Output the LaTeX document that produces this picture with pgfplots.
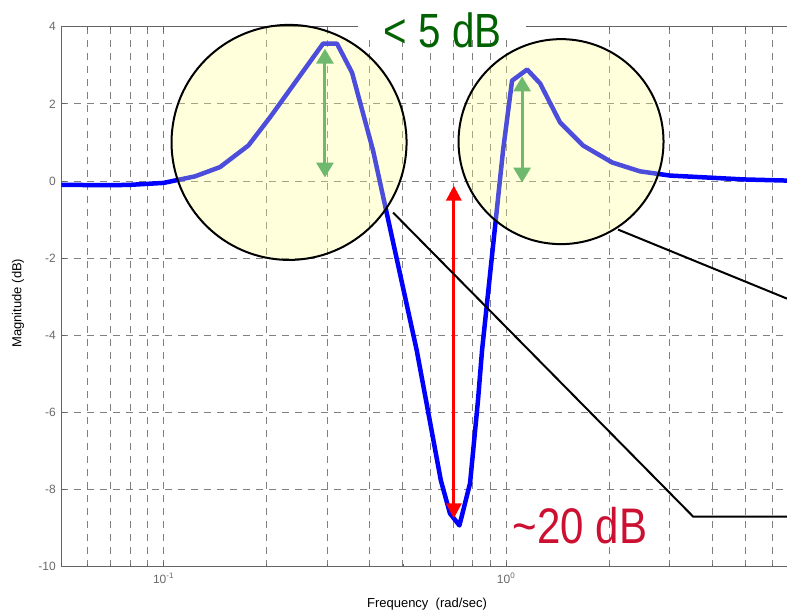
\documentclass[border=0pt]{standalone}
\usepackage{fontspec}
\setmainfont{Liberation Sans}
\newfontfamily\annofont[FakeStretch=0.84]{Liberation Sans}
\usepackage{graphicx}
\usepackage{pgfplots}
\pgfplotsset{compat=1.18}
\usetikzlibrary{arrows.meta}

\definecolor{curveblue}{RGB}{0,0,255}
\definecolor{gridgray}{RGB}{128,128,128}
\definecolor{axisgray}{RGB}{100,100,100}
\definecolor{labelgray}{RGB}{105,105,105}
\definecolor{arrowgreen}{RGB}{110,185,110}
\definecolor{textgreen}{RGB}{0,98,0}
\definecolor{textred}{RGB}{204,16,50}
\definecolor{circlefill}{RGB}{255,255,139}

\begin{document}
\begin{tikzpicture}
\begin{axis}[
  scale only axis,
  width=725.7pt, height=540pt,
  xmode=log,
  xmin=0.0503, xmax=6.61,
  ymin=-10, ymax=4,
  xtick={0.1,1},
  xticklabels={10\textsuperscript{-1},10\textsuperscript{0}},
  minor xtick={0.06,0.07,0.08,0.09,0.2,0.3,0.4,0.5,0.6,0.7,0.8,0.9,2,3,4,5,6},
  ytick={-10,-8,-6,-4,-2,0,2,4},
  yticklabels={-10,-8,-6,-4,-2,0,2,4},
  grid=both,
  major grid style={gridgray, line width=0.9pt, dash pattern=on 7pt off 6pt},
  minor grid style={gridgray, line width=0.9pt, dash pattern=on 7pt off 6pt},
  axis x line*=box, axis y line*=left,
  axis line style={-, draw=axisgray, line width=1pt},
  tick align=inside,
  major tick length=5pt, minor tick length=3pt,
  tick style={axisgray, line width=0.8pt},
  ticklabel style={font=\fontsize{12}{14}\selectfont, text=labelgray},
  xticklabel style={yshift=-3pt},
  yticklabel style={xshift=-2pt},
  xlabel={Frequency~~(rad/sec)},
  ylabel={Magnitude (dB)},
  label style={font=\fontsize{13}{15}\selectfont, text=black},
  xlabel style={at={(axis description cs:0.504,-0.069)}, anchor=center},
  ylabel style={at={(axis description cs:-0.0597,0.488)}, anchor=center},
]
% closed-loop magnitude response
\addplot[curveblue, line width=4.5pt, line join=round] table {
0.0503 -0.10
0.07   -0.11
0.08   -0.10
0.10   -0.05
0.1236  0.12
0.1462  0.36
0.1769  0.92
0.2046  1.65
0.2922  3.56
0.3210  3.56
0.3551  2.81
0.409   0.79
0.5485 -4.39
0.584  -5.69
0.645  -7.76
0.686  -8.62
0.731  -8.93
0.785  -7.84
0.828  -5.69
0.851  -4.39
0.980   0.79
1.041   2.60
1.152   2.89
1.257   2.53
1.437   1.52
1.678   0.92
2.04    0.48
2.46    0.25
3.01    0.14
3.86    0.09
4.93    0.04
6.61    0.01
};
% anchor points for the annotations
\coordinate (lc) at (axis cs:0.2325,1.0);
\coordinate (rc) at (axis cs:1.447,1.02);
\coordinate (g1a) at (axis cs:0.296,0.09);
\coordinate (g1b) at (axis cs:0.296,3.43);
\coordinate (g2a) at (axis cs:1.114,-0.04);
\coordinate (g2b) at (axis cs:1.114,2.71);
\coordinate (ra) at (axis cs:0.704,-0.12);
\coordinate (rb) at (axis cs:0.704,-8.75);
\coordinate (b1) at (axis cs:0.468,-0.82);
\coordinate (b2) at (axis cs:3.516,-8.70);
\coordinate (b3) at (axis cs:6.61,-8.70);
\coordinate (b4) at (axis cs:2.123,-1.26);
\coordinate (b5) at (axis cs:6.61,-3.05);
\coordinate (w1) at (axis cs:0.3698,3.80);
\coordinate (w2) at (axis cs:1.144,4.16);
\coordinate (t5) at (axis cs:0.6525,3.46);
\coordinate (t20) at (axis cs:1.644,-9.40);
\end{axis}

% highlight circles over the resonance peaks
\fill[circlefill, fill opacity=0.3] (lc) circle[radius=117.5pt];
\fill[circlefill, fill opacity=0.3] (rc) circle[radius=102.5pt];
\draw[black, line width=2pt] (lc) circle[radius=117.5pt];
\draw[black, line width=2pt] (rc) circle[radius=102.5pt];

% peak-height arrows
\draw[arrowgreen, line width=3pt, {Triangle[width=17pt,length=15pt]}-{Triangle[width=17pt,length=15pt]}] (g1a) -- (g1b);
\draw[arrowgreen, line width=3pt, {Triangle[width=17pt,length=15pt]}-{Triangle[width=17pt,length=15pt]}] (g2a) -- (g2b);

% notch depth arrow
\draw[red, line width=3pt, {Triangle[width=15pt,length=15pt]}-{Triangle[width=15pt,length=15pt]}] (ra) -- (rb);

% callout lines
\draw[black, line width=2pt] (b1) -- (b2) -- (b3);
\draw[black, line width=2pt] (b4) -- (b5);

% annotations
\fill[white] (w1) rectangle (w2);
\node[anchor=base, inner sep=0pt, text=textgreen, font=\annofont\fontsize{48}{50}\selectfont] at (t5) {< 5 dB};
\node[anchor=base, inner sep=0pt, text=textred, font=\annofont\fontsize{50}{52}\selectfont] at (t20) {\textasciitilde20 dB};

\pgfresetboundingbox
\path[use as bounding box] ([shift={(-61.3pt,-47.3pt)}]current axis.south west) rectangle ([shift={(0pt,26.7pt)}]current axis.north east);
\end{tikzpicture}
\end{document}
